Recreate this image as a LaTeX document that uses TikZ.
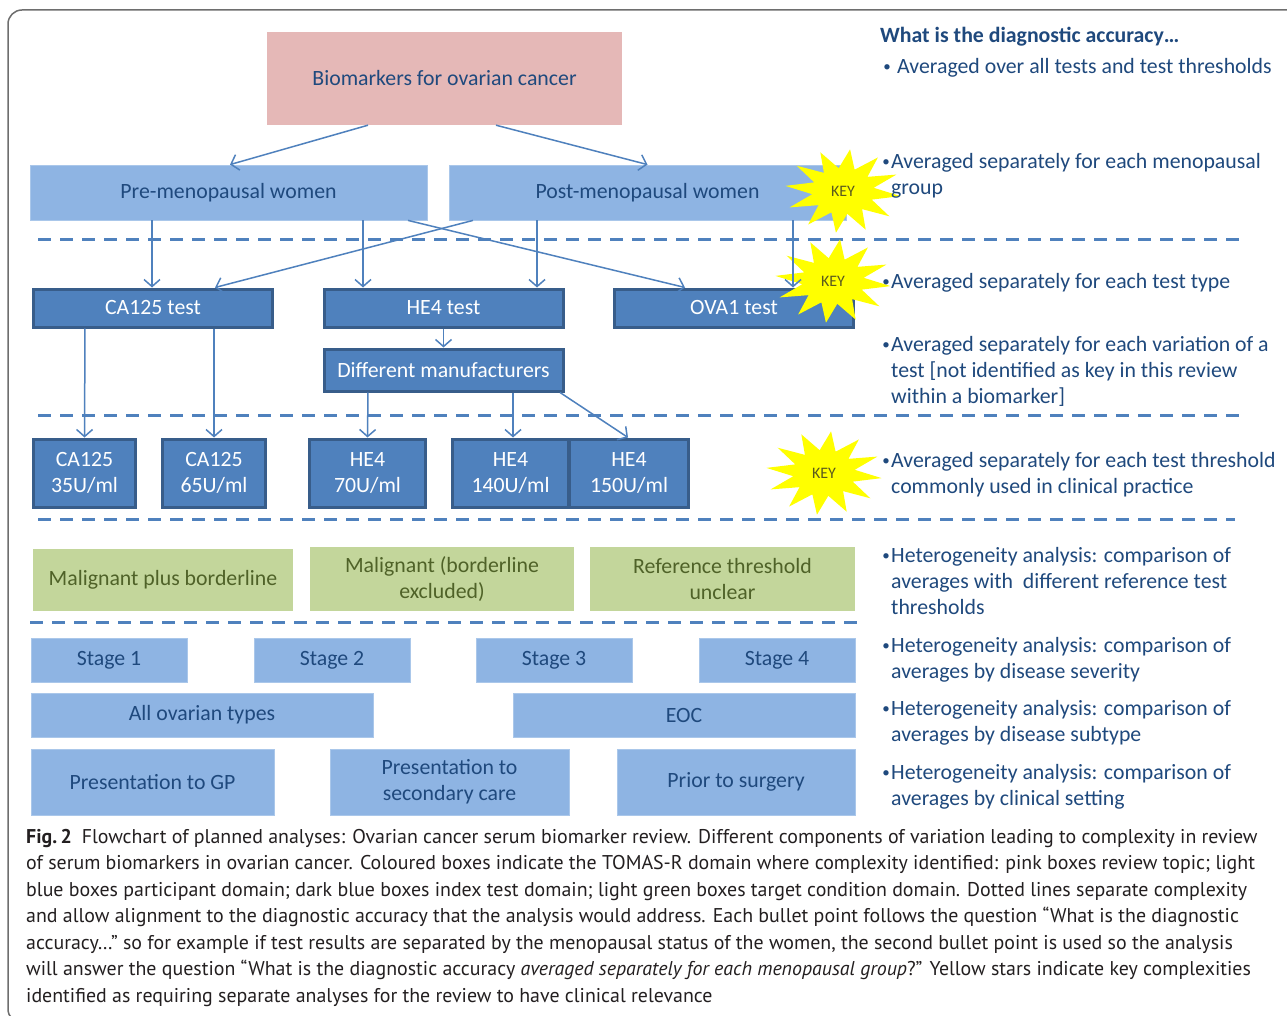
\documentclass[tikz,border=0pt]{standalone}
\usepackage{fontspec}
\setmainfont{Carlito}
\newfontfamily\capfont{PT Sans}
\usetikzlibrary{shapes,arrows.meta}
\definecolor{titleblue}{HTML}{1F497D}
\definecolor{pinkfill}{HTML}{E5B8B7}
\definecolor{paleblue}{HTML}{8EB4E3}
\definecolor{midblue}{HTML}{4F81BD}
\definecolor{edgeblue}{HTML}{385D8A}
\definecolor{sage}{HTML}{C3D69B}
\definecolor{olivetext}{HTML}{4F6228}
\definecolor{keyyellow}{HTML}{FFFF00}
\definecolor{keytext}{HTML}{5A5A1E}
\definecolor{framegrey}{HTML}{6E6E6E}
\definecolor{captiongrey}{HTML}{231F20}
\newcommand{\boxfont}{\fontsize{21.8}{26}\selectfont}
\newcommand{\smallbullet}{\strut{\fontsize{15}{15}\selectfont\raisebox{1.5pt}{\textbullet}}}
\tikzstyle{topicBlock} = [fill=pinkfill, text=titleblue, font=\boxfont, inner sep=0pt]
\tikzstyle{groupBlock} = [fill=paleblue, draw=paleblue!75!white, line width=0.8pt, text=titleblue, font=\boxfont, align=center, inner sep=0pt]
\tikzstyle{testBlock} = [draw=edgeblue, line width=3pt, fill=midblue, text=white, font=\boxfont, align=center, inner sep=0pt]
\tikzstyle{targetBlock} = [fill=sage, text=olivetext, font=\boxfont, align=center, inner sep=0pt]
\tikzstyle{line} = [draw, midblue, line width=1.5pt, -{Straight Barb[length=7pt,width=16pt]}]
\tikzstyle{divider} = [draw, midblue, line width=3pt, dash pattern=on 13pt off 9pt]
\tikzstyle{bulletText} = [anchor=north west, inner sep=0pt, text=titleblue, font=\boxfont, align=left]
\tikzstyle{bulletMark} = [anchor=north east, inner sep=0pt, text=titleblue, font=\boxfont]
\tikzstyle{keyLabel} = [text=keytext, font=\fontsize{16}{18}\selectfont, inner sep=0pt]
\tikzstyle{captionText} = [anchor=north west, inner sep=0pt, align=left, text=captiongrey, font=\capfont\fontsize{19.9}{26.5}\selectfont]
% yellow burst with its KEY label
\newcommand{\keyburst}[3]{%
  \fill[keyyellow] plot[samples at={0,...,23}, variable=\k]
    ({#1+ifthenelse(mod(\k,2)==0,58,31)*cos(\k*15+7)},
     {#2+ifthenelse(mod(\k,2)==0,42,23)*sin(\k*15+7)}) -- cycle;
  \node[keyLabel] (#3) at (#1,#2) {KEY};}

\begin{document}
\begin{tikzpicture}[x=1pt, y=-1pt]
    \useasboundingbox (0,0) rectangle (1287,1016);
    \clip (0,0) rectangle (1287,1016);
    \fill[white] (0,0) rectangle (1287,1016);
    \draw[framegrey, line width=1.5pt, rounded corners=14pt] (8,10) rectangle (1330,1023);

    % Place nodes
    \node [topicBlock, minimum width=355, minimum height=93] (bio) at (444.5,78.5) {Biomarkers for ovarian cancer};
    \node [groupBlock, minimum width=397, minimum height=55] (pre) at (228.5,192.5) {Pre-menopausal women};
    \node [groupBlock, minimum width=397, minimum height=55] (post) at (647.5,192.5) {Post-menopausal women};

    \node [testBlock, minimum width=239, minimum height=38] (ca125) at (153,308) {CA125 test};
    \node [testBlock, minimum width=239, minimum height=38] (he4) at (443.5,308) {HE4 test};
    \node [testBlock, minimum width=239, minimum height=38] (ova1) at (734,308) {OVA1 test};
    \node [testBlock, minimum width=239, minimum height=42] (manu) at (443.5,370) {Different manufacturers};

    \node [testBlock, minimum width=102, minimum height=68] (ca35) at (84.5,473) {CA125\\35U/ml};
    \node [testBlock, minimum width=103, minimum height=68] (ca65) at (214,473) {CA125\\65U/ml};
    \node [testBlock, minimum width=116, minimum height=68] (he70) at (367.5,473) {HE4\\70U/ml};
    \node [testBlock, minimum width=116, minimum height=68] (he140) at (510.5,473) {HE4\\140U/ml};
    \node [testBlock, minimum width=119, minimum height=68] (he150) at (629,473) {HE4\\150U/ml};

    \node [targetBlock, minimum width=260, minimum height=62] (plusBorder) at (163,579.5) {Malignant plus borderline};
    \node [targetBlock, minimum width=264, minimum height=64] (exclBorder) at (442,579) {Malignant (borderline\\excluded)};
    \node [targetBlock, minimum width=265, minimum height=64] (refUnclear) at (722.5,579) {Reference threshold\\unclear};

    \node [groupBlock, minimum width=156, minimum height=44] (stage1) at (109,660) {Stage 1};
    \node [groupBlock, minimum width=156, minimum height=44] (stage2) at (332,660) {Stage 2};
    \node [groupBlock, minimum width=156, minimum height=44] (stage3) at (554,660) {Stage 3};
    \node [groupBlock, minimum width=156, minimum height=44] (stage4) at (777,660) {Stage 4};
    \node [groupBlock, minimum width=342, minimum height=44] (allTypes) at (202,715) {All ovarian types};
    \node [groupBlock, minimum width=342, minimum height=44] (eoc) at (684,715) {EOC};
    \node [groupBlock, minimum width=243, minimum height=66] (gp) at (152.5,782) {Presentation to GP};
    \node [groupBlock, minimum width=239, minimum height=66] (secCare) at (449.5,782) {Presentation to\\secondary care};
    \node [groupBlock, minimum width=238, minimum height=66] (surgery) at (736,782) {Prior to surgery};

    % Dotted separators
    \path [divider] (38,240) -- (1240,240);
    \path [divider] (38,415) -- (1240,415);
    \path [divider] (38,519) -- (1235,519);
    \path [divider] (30,622) -- (862,622);

    \keyburst{833}{281}{key2}
    \keyburst{824}{473}{key3}

    % Draw edges
    \path [line] ([xshift=-76.5]bio.south) -- ([xshift=1.5]pre.north);
    \path [line] ([xshift=51.5]bio.south) -- (post.north);
    \path [line] ([xshift=-76.5]pre.south) -- ([xshift=-1]ca125.north);
    \path [line] ([xshift=134.5]pre.south) -- ([xshift=-80.5]he4.north);
    \path [line] ([xshift=179.5]pre.south) -- ([xshift=-49]ova1.north);
    \path [line] ([xshift=-174.5]post.south) -- ([xshift=62]ca125.north);
    \path [line] ([xshift=-110.5]post.south) -- ([xshift=93.5]he4.north);
    \path [line] ([xshift=145.5]post.south) -- ([xshift=59]ova1.north);
    \path [line] (he4.south) -- (manu.north);
    \path [line] ([xshift=-68]ca125.south) -- (ca35.north);
    \path [line] ([xshift=61]ca125.south) -- (ca65.north);
    \path [line] ([xshift=-75.5]manu.south) -- (he70.north);
    \path [line] ([xshift=69.5]manu.south) -- ([xshift=2.5]he140.north);
    \path [line] ([xshift=116.5]manu.south) -- ([xshift=-1]he150.north);

    \keyburst{843}{191}{key1}

    % Questions on the right
    \node [bulletText, font=\bfseries\boxfont] (question) at (880,24) {\strut What is the diagnostic accuracy…};
    \node [bulletText, label={[bulletMark, xshift=-6]north west:\smallbullet}] (overall) at (897,55) {\strut Averaged over all tests and test thresholds};
    \node [bulletText, label={[bulletMark, xshift=-1]north west:\smallbullet}] (byGroup) at (891,150) {\strut Averaged separately for each menopausal\\group};
    \node [bulletText, label={[bulletMark, xshift=-1]north west:\smallbullet}] (byTest) at (891,270) {\strut Averaged separately for each test type};
    \node [bulletText, label={[bulletMark, xshift=-1]north west:\smallbullet}] (byVariant) at (891,333) {\strut Averaged separately for each variation of a\\test [not identified as key in this review\\within a biomarker]};
    \node [bulletText, label={[bulletMark, xshift=-1]north west:\smallbullet}] (byThreshold) at (891,449) {\strut Averaged separately for each test threshold\\commonly used in clinical practice};
    \node [bulletText, label={[bulletMark, xshift=-1]north west:\smallbullet}] (byReference) at (891,544) {\strut Heterogeneity analysis: comparison of\\averages with\ \ different reference test\\thresholds};
    \node [bulletText, label={[bulletMark, xshift=-1]north west:\smallbullet}] (bySeverity) at (891,634) {\strut Heterogeneity analysis: comparison of\\averages by disease severity};
    \node [bulletText, label={[bulletMark, xshift=-1]north west:\smallbullet}] (bySubtype) at (891,697) {\strut Heterogeneity analysis: comparison of\\averages by disease subtype};
    \node [bulletText, label={[bulletMark, xshift=-1]north west:\smallbullet}] (bySetting) at (891,761) {\strut Heterogeneity analysis: comparison of\\averages by clinical setting};

    % Caption
    \node [captionText] (caption) at (26,824.5) {\strut\textbf{Fig.\,2}\enspace Flowchart of planned analyses: Ovarian cancer serum biomarker review. Different components of variation leading to complexity in review\\
of serum biomarkers in ovarian cancer. Coloured boxes indicate the TOMAS-R domain where complexity identified: pink boxes review topic; light\\
blue boxes participant domain; dark blue boxes index test domain; light green boxes target condition domain. Dotted lines separate complexity\\
and allow alignment to the diagnostic accuracy that the analysis would address. Each bullet point follows the question “What is the diagnostic\\
accuracy…” so for example if test results are separated by the menopausal status of the women, the second bullet point is used so the analysis\\
will answer the question “What is the diagnostic accuracy \textit{averaged separately for each menopausal group}?” Yellow stars indicate key complexities\\
identified as requiring separate analyses for the review to have clinical relevance};
\end{tikzpicture}
\end{document}
